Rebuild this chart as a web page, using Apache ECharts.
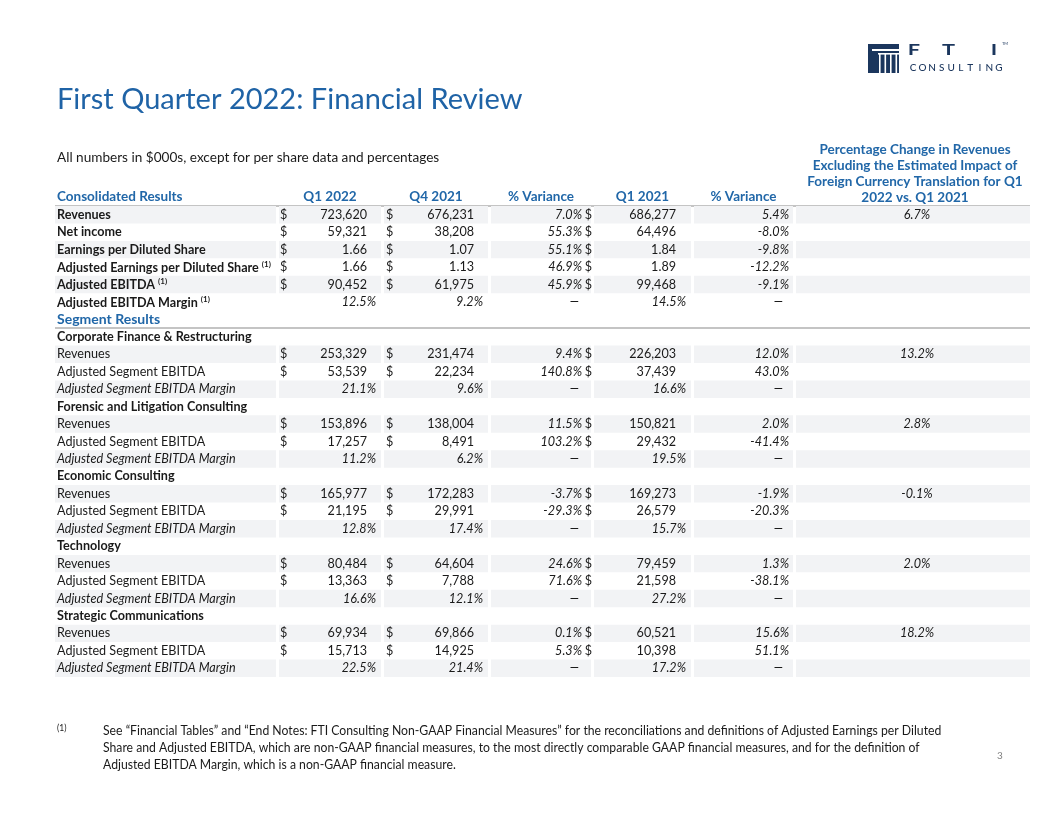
<!DOCTYPE html>
<html><head><meta charset="utf-8">
<script src="https://cdn.jsdelivr.net/npm/echarts@6/dist/echarts.min.js"></script>
<style>html,body{margin:0;padding:0;background:#fff}#c{width:1056px;height:816px}</style>
</head><body><div id="c"></div>
<script>
// ---------------- DATA ----------------
const titleText = 'First Quarter 2022: Financial Review';
const subtitleText = 'All numbers in $000s, except for per share data and percentages';
const columnHeaders = ['Consolidated Results', 'Q1 2022', 'Q4 2021', '% Variance', 'Q1 2021', '% Variance',
  'Percentage Change in Revenues\nExcluding the Estimated Impact of\nForeign Currency Translation for Q1\n2022 vs. Q1 2021'];
const rowLabels = ['Revenues', 'Net income', 'Earnings per Diluted Share', 'Adjusted Earnings per Diluted Share',
  'Adjusted EBITDA', 'Adjusted EBITDA Margin', 'Segment Results',
  'Corporate Finance & Restructuring', 'Revenues', 'Adjusted Segment EBITDA', 'Adjusted Segment EBITDA Margin',
  'Forensic and Litigation Consulting', 'Revenues', 'Adjusted Segment EBITDA', 'Adjusted Segment EBITDA Margin',
  'Economic Consulting', 'Revenues', 'Adjusted Segment EBITDA', 'Adjusted Segment EBITDA Margin',
  'Technology', 'Revenues', 'Adjusted Segment EBITDA', 'Adjusted Segment EBITDA Margin',
  'Strategic Communications', 'Revenues', 'Adjusted Segment EBITDA', 'Adjusted Segment EBITDA Margin'];
// row kind: total = consolidated line, section = blue heading, group = segment name, line = segment line, margin = segment margin
const rowKinds = ['total', 'total', 'total', 'total', 'total', 'totalMargin', 'section',
  'group', 'line', 'line', 'margin', 'group', 'line', 'line', 'margin', 'group', 'line', 'line', 'margin',
  'group', 'line', 'line', 'margin', 'group', 'line', 'line', 'margin'];
const rowUnits = ['usd', 'usd', 'eps', 'eps', 'usd', 'pct', null,
  null, 'usd', 'usd', 'pct', null, 'usd', 'usd', 'pct', null, 'usd', 'usd', 'pct',
  null, 'usd', 'usd', 'pct', null, 'usd', 'usd', 'pct'];
const rowFootnote = [0, 0, 0, 1, 1, 1, 0, 0, 0, 0, 0, 0, 0, 0, 0, 0, 0, 0, 0, 0, 0, 0, 0, 0, 0, 0, 0];
const q1_2022 = [723620, 59321, 1.66, 1.66, 90452, 12.5, null,
  null, 253329, 53539, 21.1, null, 153896, 17257, 11.2, null, 165977, 21195, 12.8,
  null, 80484, 13363, 16.6, null, 69934, 15713, 22.5];
const q4_2021 = [676231, 38208, 1.07, 1.13, 61975, 9.2, null,
  null, 231474, 22234, 9.6, null, 138004, 8491, 6.2, null, 172283, 29991, 17.4,
  null, 64604, 7788, 12.1, null, 69866, 14925, 21.4];
const varVsQ4 = [7.0, 55.3, 55.1, 46.9, 45.9, '—', null,
  null, 9.4, 140.8, '—', null, 11.5, 103.2, '—', null, -3.7, -29.3, '—',
  null, 24.6, 71.6, '—', null, 0.1, 5.3, '—'];
const q1_2021 = [686277, 64496, 1.84, 1.89, 99468, 14.5, null,
  null, 226203, 37439, 16.6, null, 150821, 29432, 19.5, null, 169273, 26579, 15.7,
  null, 79459, 21598, 27.2, null, 60521, 10398, 17.2];
const varVsQ1 = [5.4, -8.0, -9.8, -12.2, -9.1, '—', null,
  null, 12.0, 43.0, '—', null, 2.0, -41.4, '—', null, -1.9, -20.3, '—',
  null, 1.3, -38.1, '—', null, 15.6, 51.1, '—'];
const fxAdjusted = [6.7, null, null, null, null, null, null,
  null, 13.2, null, null, null, 2.8, null, null, null, -0.1, null, null,
  null, 2.0, null, null, null, 18.2, null, null];
const footnoteLines = [
  'See \u201cFinancial Tables\u201d and \u201cEnd Notes: FTI Consulting Non-GAAP Financial Measures\u201d for the reconciliations and definitions of Adjusted Earnings per Diluted',
  'Share and Adjusted EBITDA, which are non-GAAP financial measures, to the most directly comparable GAAP financial measures, and for the definition of',
  'Adjusted EBITDA Margin, which is a non-GAAP financial measure.'];

// ---------------- LAYOUT / STYLE ----------------
const FONT = 'Lato, "Open Sans", sans-serif';
const BLUE = '#2167a8';
const INK = '#1a1a1a';
const SHADE = '#f2f3f5';
const TABLE_L = 55, TABLE_R = 1030;
// cell spans in table units (0..975 == pixel offset from table left)
const cells = [[0, 221], [224, 326], [329, 433], [436, 536], [539, 636], [639, 738], [741, 975]];

// shading: alternate within each run of value rows, starting shaded
const shaded = [];
(function () {
  let k = 0;
  rowKinds.forEach((kind, i) => {
    if (rowUnits[i]) { shaded[i] = (k % 2 === 0); k++; } else { shaded[i] = false; k = 0; }
  });
})();

function fmtVal(v, unit) {
  if (v === null || v === undefined) return '';
  if (unit === 'pct') return v.toFixed(1) + '%';
  if (unit === 'eps') return v.toFixed(2);
  return v.toLocaleString('en-US');
}
function fmtPct(v) { return (typeof v === 'number') ? v.toFixed(1) + '%' : v; }

const chart = echarts.init(document.getElementById('c'), null, { renderer: 'canvas' });

function renderRow(params, api) {
  const i = api.value(1);
  const kind = rowKinds[i], unit = rowUnits[i];
  const yc = api.coord([0, i])[1];
  const h = api.size([0, 1])[1];
  const X = (u) => api.coord([u, i])[0];
  const kids = [];
  if (shaded[i]) {
    cells.forEach(c => kids.push({ type: 'rect', shape: { x: X(c[0]), y: yc - h / 2, width: X(c[1]) - X(c[0]), height: h }, style: { fill: SHADE } }));
  }
  // label
  let lblFont = '12.6px ' + FONT, lblFill = INK;
  if (kind === 'total' || kind === 'totalMargin' || kind === 'group') lblFont = 'bold 12.6px ' + FONT;
  if (kind === 'margin') lblFont = 'italic 12.6px ' + FONT;
  if (kind === 'section') { lblFont = 'bold 14px ' + FONT; lblFill = BLUE; }
  if (rowFootnote[i]) {
    kids.push({ type: 'text', style: { x: X(2), y: yc, verticalAlign: 'middle', align: 'left',
      text: '{a|' + rowLabels[i] + ' }{s|(1)}',
      rich: { a: { font: lblFont, fill: lblFill, lineHeight: 14, verticalAlign: 'bottom' },
              s: { font: 'bold 8px ' + FONT, fill: lblFill, lineHeight: 14, verticalAlign: 'top' } } } });
  } else {
    kids.push({ type: 'text', style: { x: X(2), y: yc, verticalAlign: 'middle', align: 'left', text: rowLabels[i], font: lblFont, fill: lblFill } });
  }
  if (!unit) return { type: 'group', children: kids };
  const numFont = '12.6px ' + FONT, itFont = 'italic 12.6px ' + FONT;
  const isPct = unit === 'pct';
  const t = (x, text, font, align) => kids.push({ type: 'text', style: { x: x, y: yc, verticalAlign: 'middle', align: align, text: text, font: font, fill: INK } });
  // Q1 2022
  if (!isPct) t(X(cells[1][0] + 1), '$', numFont, 'left');
  t(X(cells[1][1] - (isPct ? 5 : 14)), fmtVal(q1_2022[i], unit), isPct ? itFont : numFont, 'right');
  // Q4 2021
  if (!isPct) t(X(cells[2][0] + 2), '$', numFont, 'left');
  t(X(cells[2][1] - (isPct ? 5 : 14)), fmtVal(q4_2021[i], unit), isPct ? itFont : numFont, 'right');
  // variance vs Q4
  const v1 = varVsQ4[i];
  if (v1 === '—') t(X(cells[3][1] - 12), '—', itFont, 'right');
  else if (v1 !== null) t(X(cells[3][1] - 9), fmtPct(v1), itFont, 'right');
  if (!isPct) t(X(cells[3][1] + 1), '$', numFont, 'right');
  // Q1 2021
  t(X(cells[4][1] - (isPct ? 5 : 15)), fmtVal(q1_2021[i], unit), isPct ? itFont : numFont, 'right');
  // variance vs Q1
  const v2 = varVsQ1[i];
  if (v2 === '—') t(X(cells[5][1] - 10), '—', itFont, 'right');
  else if (v2 !== null) t(X(cells[5][1] - 4), fmtPct(v2), itFont, 'right');
  // fx adjusted
  if (fxAdjusted[i] !== null) t(X((cells[6][0] + cells[6][1]) / 2 + 4), fmtPct(fxAdjusted[i]), itFont, 'center');
  return { type: 'group', children: kids };
}

// header + decorations
const graphics = [];
graphics.push({ type: 'text', x: 57, y: 100, style: { text: titleText, font: '29px ' + FONT, fill: '#1f63a6', verticalAlign: 'middle' } });
graphics.push({ type: 'text', x: 57, y: 158, style: { text: subtitleText, font: '13.6px ' + FONT, fill: INK, verticalAlign: 'middle' } });
const hdrY = 197, hdrFont = 'bold 13.5px ' + FONT;
graphics.push({ type: 'text', x: 57, y: hdrY, style: { text: columnHeaders[0], font: hdrFont, fill: BLUE, verticalAlign: 'middle' } });
for (let c = 1; c <= 5; c++) {
  graphics.push({ type: 'text', x: TABLE_L + (cells[c][0] + cells[c][1]) / 2, y: hdrY, style: { text: columnHeaders[c], font: hdrFont, fill: BLUE, align: 'center', verticalAlign: 'middle' } });
}
graphics.push({ type: 'text', x: TABLE_L + (cells[6][0] + cells[6][1]) / 2 + 2, y: 205, style: { text: columnHeaders[6], font: hdrFont, fill: BLUE, align: 'center', verticalAlign: 'bottom', lineHeight: 15.7 } });
// rules
graphics.push({ type: 'rect', shape: { x: TABLE_L, y: 205, width: TABLE_R - TABLE_L, height: 2 }, style: { fill: '#c4c4c4' } });
graphics.push({ type: 'rect', shape: { x: TABLE_L, y: 327, width: TABLE_R - TABLE_L, height: 2 }, style: { fill: '#c4c4c4' } });
// footnote
graphics.push({ type: 'text', x: 57, y: 728, style: { text: '(1)', font: '8.5px ' + FONT, fill: INK, verticalAlign: 'middle' } });
graphics.push({ type: 'text', x: 103, y: 722, scaleX: 0.94, style: { text: footnoteLines.join('\n'), font: '13px ' + FONT, fill: INK, lineHeight: 17 } });
graphics.push({ type: 'text', x: 1000, y: 756, style: { text: '3', font: '10px ' + FONT, fill: '#808080', align: 'center', verticalAlign: 'middle' } });
// logo
const NAVY = '#1b365d';
graphics.push({ type: 'rect', shape: { x: 868, y: 44, width: 31, height: 29 }, style: { fill: NAVY } });
graphics.push({ type: 'rect', shape: { x: 872, y: 49, width: 27, height: 2 }, style: { fill: '#fff' } });
[879, 884.5, 890, 895.5].forEach(x => graphics.push({ type: 'rect', shape: { x: x, y: 54, width: 1.6, height: 19 }, style: { fill: '#fff' } }));
graphics.push({ type: 'rect', shape: { x: 878, y: 53, width: 21, height: 1.6 }, style: { fill: '#fff' } });
[['F', 914], ['T', 948.5], ['I', 994]].forEach(p => graphics.push({ type: 'text', x: p[1], y: 50, scaleX: 1.45, style: { text: p[0], font: 'bold 15px ' + FONT, fill: NAVY, align: 'center', verticalAlign: 'middle' } }));
'CONSULTING'.split('').forEach((ch, k) => graphics.push({ type: 'text', x: 913 + k * 9.55, y: 68, style: { text: ch, font: '500 10px ' + FONT, fill: NAVY, align: 'center', verticalAlign: 'middle' } }));
graphics.push({ type: 'text', x: 1005, y: 44, style: { text: 'TM', font: '4px ' + FONT, fill: NAVY, align: 'center', verticalAlign: 'middle' } });

chart.setOption({
  animation: false,
  backgroundColor: '#fff',
  grid: { left: TABLE_L, right: 1056 - TABLE_R, top: 206, bottom: 139 },
  xAxis: { type: 'value', min: 0, max: 975, show: false },
  yAxis: { type: 'category', data: rowLabels.map((l, i) => i), inverse: true, show: false },
  series: [{
    type: 'custom', silent: true, clip: false,
    encode: { x: 0, y: 1 },
    data: rowLabels.map((l, i) => [0, i]),
    renderItem: renderRow
  }],
  graphic: graphics
});
</script></body></html>
